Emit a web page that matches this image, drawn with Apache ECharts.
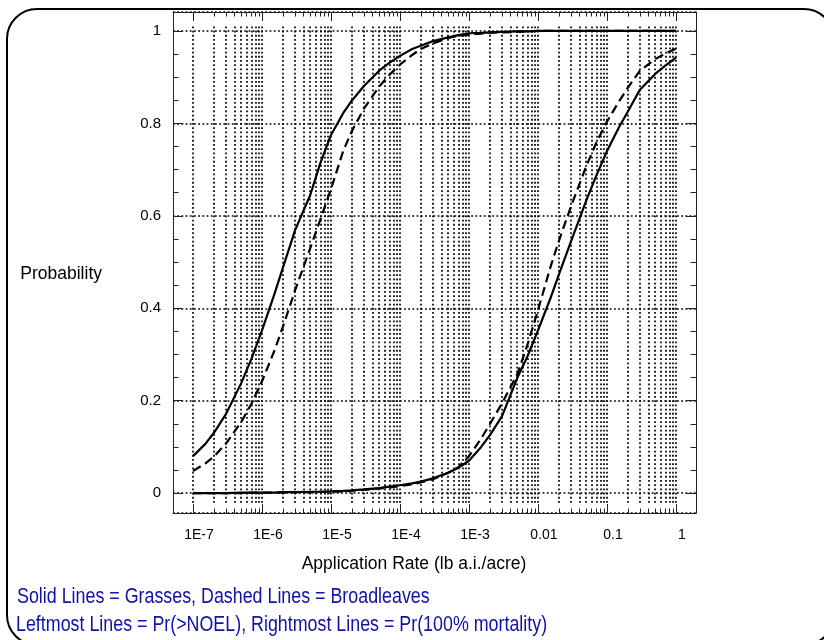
<!DOCTYPE html>
<html><head><meta charset="utf-8">
<script src="https://cdn.jsdelivr.net/npm/echarts@6/dist/echarts.min.js"></script>
<style>html,body{margin:0;padding:0;background:#fff}#c{width:824px;height:640px}</style>
</head><body><div id="c"></div>
<script>
// ---- data (application rate in lb a.i./acre, probability) ----
const RATES = [
  1e-7, 1.5e-7, 2e-7, 3e-7, 5e-7, 7e-7,
  1e-6, 1.5e-6, 2e-6, 3e-6, 5e-6, 7e-6,
  1e-5, 1.5e-5, 2e-5, 3e-5, 5e-5, 7e-5,
  1e-4, 1.5e-4, 2e-4, 3e-4, 5e-4, 7e-4,
  1e-3, 1.5e-3, 2e-3, 3e-3, 5e-3, 7e-3,
  0.01, 0.015, 0.02, 0.03, 0.05, 0.07,
  0.1, 0.15, 0.2, 0.3, 0.5, 0.7,
  1];
const GRASS_NOEL = [
  0.080, 0.106, 0.130, 0.171, 0.238, 0.290,
  0.352, 0.429, 0.487, 0.568, 0.645, 0.714,
  0.775, 0.822, 0.849, 0.881, 0.914, 0.931,
  0.946, 0.961, 0.968, 0.978, 0.986, 0.991,
  0.995, 0.996, 0.997, 0.998, 0.999, 0.999,
  1, 1, 1, 1, 1, 1,
  1, 1, 1, 1, 1, 1,
  1];
const BROAD_NOEL = [
  0.048, 0.064, 0.079, 0.107, 0.154, 0.193,
  0.242, 0.307, 0.359, 0.438, 0.530, 0.592,
  0.658, 0.740, 0.783, 0.832, 0.880, 0.905,
  0.927, 0.948, 0.961, 0.973, 0.985, 0.989,
  0.992, 0.994, 0.996, 0.997, 0.998, 0.999,
  1, 1, 1, 1, 1, 1,
  1, 1, 1, 1, 1, 1,
  1];
const GRASS_MORT = [
  0.000, 0.000, 0.000, 0.000, 0.001, 0.001,
  0.001, 0.001, 0.002, 0.002, 0.003, 0.003,
  0.004, 0.005, 0.006, 0.008, 0.011, 0.014,
  0.017, 0.021, 0.025, 0.032, 0.044, 0.055,
  0.070, 0.100, 0.125, 0.166, 0.249, 0.295,
  0.352, 0.420, 0.472, 0.544, 0.633, 0.687,
  0.740, 0.792, 0.825, 0.873, 0.907, 0.925,
  0.942];
const BROAD_MORT = [
  0.000, 0.000, 0.000, 0.000, 0.000, 0.001,
  0.001, 0.001, 0.001, 0.002, 0.002, 0.003,
  0.003, 0.004, 0.005, 0.007, 0.010, 0.012,
  0.015, 0.019, 0.023, 0.030, 0.044, 0.056,
  0.080, 0.118, 0.149, 0.194, 0.257, 0.320,
  0.396, 0.487, 0.545, 0.620, 0.707, 0.758,
  0.804, 0.848, 0.877, 0.914, 0.939, 0.951,
  0.962];
const X_DECADES = [-7, -6, -5, -4, -3, -2, -1, 0];
const X_TICK_LABELS = ['1E-7', '1E-6', '1E-5', '1E-4', '1E-3', '0.01', '0.1', '1'];
const X_TITLE = 'Application Rate (lb a.i./acre)';
const Y_TITLE = 'Probability';
const NOTE_LINES = ['Solid Lines = Grasses, Dashed Lines = Broadleaves',
  'Leftmost Lines = Pr(>NOEL), Rightmost Lines = Pr(100% mortality)'];

// ---- layout ----
const X_MIN = -7.29, X_MAX = 0.29, Y_MIN = -0.043, Y_MAX = 1.041;
const GRID = {left: 173, top: 12, width: 523, height: 501};
const unitPerPx = (Y_MAX - Y_MIN) / GRID.height;
const GRID_V_LOW = -0.021, GRID_V_HIGH = 1.013;
const MINOR_LEN = 4.5 * unitPerPx;

const toPts = vals => RATES.map((r, i) => [Math.log10(r), vals[i]]);

const vGrid = [], minorTicks = [];
X_DECADES.forEach(d => vGrid.push([{coord: [d, GRID_V_LOW]}, {coord: [d, GRID_V_HIGH]}]));
for (let n = -7; n < 0; n++) {
  for (let k = 2; k <= 9; k++) {
    const x = n + Math.log10(k);
    vGrid.push([{coord: [x, GRID_V_LOW]}, {coord: [x, GRID_V_HIGH]}]);
    minorTicks.push([{coord: [x, Y_MIN]}, {coord: [x, Y_MIN + MINOR_LEN]}]);
    minorTicks.push([{coord: [x, Y_MAX]}, {coord: [x, Y_MAX - MINOR_LEN]}]);
  }
}

const DOT = {type: [1.8, 2.4], width: 1.7, color: '#000'};
const SANS = "'Liberation Sans', Arial, sans-serif";

const xAxisBase = {
  type: 'value', min: X_MIN, max: X_MAX, splitNumber: 8,
  axisLine: {show: true, onZero: false, lineStyle: {color: '#222', width: 1}},
  axisTick: {show: true, inside: true, length: 9, lineStyle: {color: '#222', width: 1}},
  splitLine: {show: false}
};
const yAxisBase = {
  type: 'value', min: Y_MIN, max: Y_MAX, splitNumber: 5,
  axisLine: {show: true, onZero: false, lineStyle: {color: '#222', width: 1}},
  axisTick: {show: true, inside: true, length: 10, lineStyle: {color: '#222', width: 1}},
  minorTick: {show: true, splitNumber: 4, length: 5.5, lineStyle: {color: '#222', width: 1}}
};

function curve(name, vals, dashed) {
  return {
    name, type: 'line', data: toPts(vals), showSymbol: false, z: 5,
    lineStyle: {color: '#000', width: 2.2, type: dashed ? [9, 5] : 'solid'}
  };
}

const chart = echarts.init(document.getElementById('c'), null, {renderer: 'canvas'});
chart.setOption({
  animation: false,
  backgroundColor: '#fff',
  grid: {left: GRID.left, top: GRID.top, width: GRID.width, height: GRID.height, containLabel: false},
  xAxis: [
    Object.assign({}, xAxisBase, {
      position: 'bottom',
      name: X_TITLE, nameLocation: 'middle', nameGap: 42,
      nameTextStyle: {fontFamily: SANS, fontSize: 17.5, color: '#000', padding: [0, 41, 0, 0]},
      axisLabel: {
        show: true, margin: 15, showMinLabel: false, showMaxLabel: false,
        fontFamily: SANS, fontSize: 14, color: '#000', padding: [0, 0, 0, 12],
        formatter: v => {
          const i = X_DECADES.indexOf(Math.round(v));
          return (Math.abs(v - Math.round(v)) < 1e-6 && i >= 0) ? X_TICK_LABELS[i] : '';
        }
      }
    }),
    Object.assign({}, xAxisBase, {position: 'top', axisLabel: {show: false}})
  ],
  yAxis: [
    Object.assign({}, yAxisBase, {
      position: 'left',
      axisLabel: {show: true, margin: 12, showMinLabel: false, showMaxLabel: false,
        fontFamily: SANS, fontSize: 15, color: '#000'},
      splitLine: {show: true, lineStyle: DOT}
    }),
    Object.assign({}, yAxisBase, {position: 'right', axisLabel: {show: false}, splitLine: {show: false}})
  ],
  series: [
    {
      type: 'line', data: [], z: 1, silent: true,
      markLine: {silent: true, symbol: ['none', 'none'], label: {show: false},
        lineStyle: DOT, emphasis: {disabled: true}, animation: false, data: vGrid}
    },
    {
      type: 'line', data: [], z: 2, silent: true,
      markLine: {silent: true, symbol: ['none', 'none'], label: {show: false},
        lineStyle: {type: 'solid', width: 1, color: '#222'}, emphasis: {disabled: true},
        animation: false, data: minorTicks}
    },
    curve('Grasses Pr(>NOEL)', GRASS_NOEL, false),
    curve('Broadleaves Pr(>NOEL)', BROAD_NOEL, true),
    curve('Grasses Pr(100% mortality)', GRASS_MORT, false),
    curve('Broadleaves Pr(100% mortality)', BROAD_MORT, true)
  ],
  graphic: [
    {type: 'rect', silent: true, z: 10,
      shape: {x: 7, y: 9, width: 827, height: 636, r: 30},
      style: {fill: 'none', stroke: '#000', lineWidth: 2}},
    {type: 'text', x: 102, y: 274, z: 10,
      style: {text: Y_TITLE, fill: '#000', font: "17.5px " + SANS, align: 'right', verticalAlign: 'middle'}},
    {type: 'text', x: 17, y: 597, scaleX: 0.83, z: 10,
      style: {text: NOTE_LINES[0], fill: '#1212a6', font: "21.5px " + SANS, align: 'left', verticalAlign: 'middle'}},
    {type: 'text', x: 16, y: 625, scaleX: 0.83, z: 10,
      style: {text: NOTE_LINES[1], fill: '#1212a6', font: "21.5px " + SANS, align: 'left', verticalAlign: 'middle'}}
  ]
});
</script></body></html>
